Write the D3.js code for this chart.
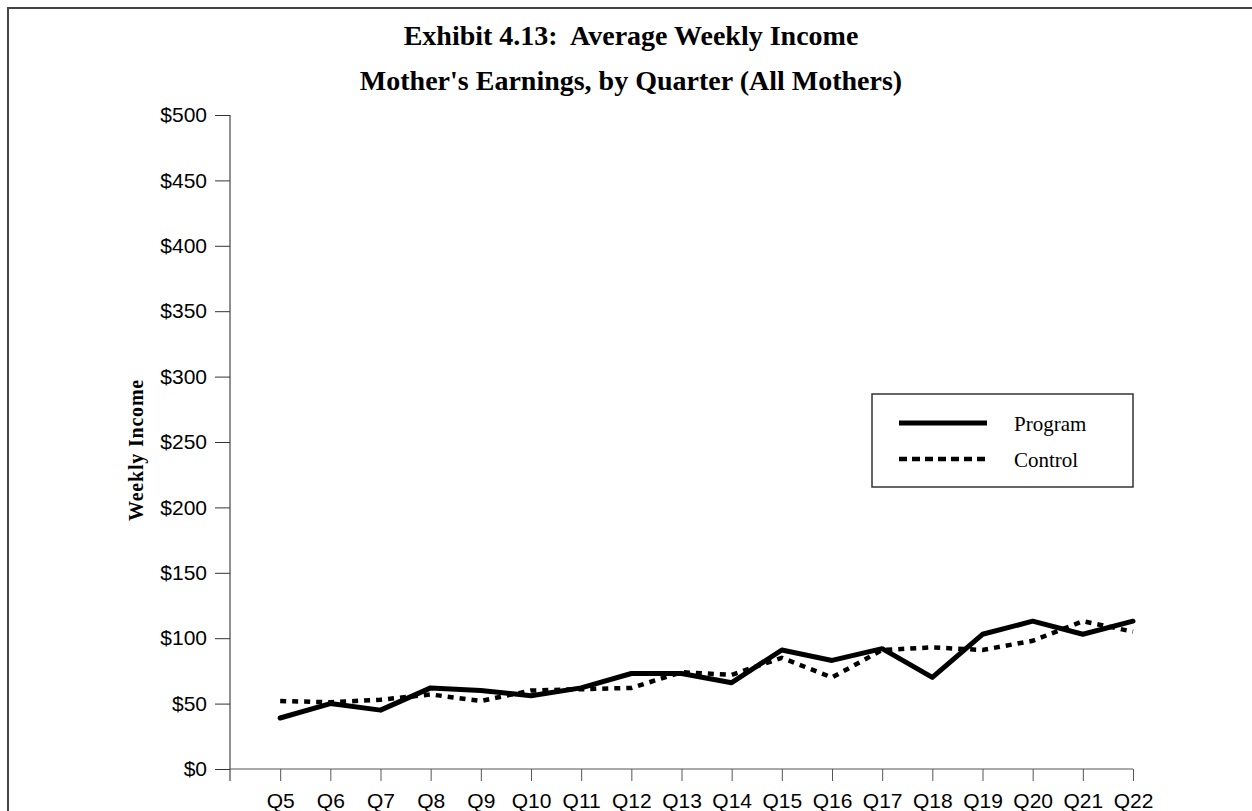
<!DOCTYPE html>
<html>
<head>
<meta charset="utf-8">
<title>Exhibit 4.13</title>
<script src="https://d3js.org/d3.v7.min.js"></script>
<style>
  body { margin: 0; background: #fff; }
  svg { display: block; }
</style>
</head>
<body>
<script>
// data
var quarters = ['Q5','Q6','Q7','Q8','Q9','Q10','Q11','Q12','Q13','Q14','Q15','Q16','Q17','Q18','Q19','Q20','Q21','Q22'];
var program = [39, 50, 45, 62, 60, 56, 62, 73, 73, 66, 91, 83, 92, 70, 103, 113, 103, 113];
var control = [52, 51, 53, 57, 52, 60, 61, 62, 74, 72, 85, 70, 91, 93, 91, 98, 113, 105];
var yTicks = [0, 50, 100, 150, 200, 250, 300, 350, 400, 450, 500];
var titleLines = ['Exhibit 4.13:  Average Weekly Income', "Mother's Earnings, by Quarter (All Mothers)"];

var W = 1252, H = 811;
var pLeft = 230, pRight = 1133, pTop = 115, pBottom = 769;

var svg = d3.select('body').append('svg')
  .attr('width', W)
  .attr('height', H);

// outer frame (only top and left edges are visible)
svg.append('rect')
  .attr('x', 8).attr('y', 8)
  .attr('width', 1300).attr('height', 900)
  .attr('fill', 'none')
  .attr('stroke', '#444')
  .attr('stroke-width', 2);

// titles
svg.selectAll('.title')
  .data(titleLines)
  .enter().append('text')
  .attr('class', 'title')
  .attr('x', 631)
  .attr('y', (d, i) => 45 + i * 45)
  .attr('text-anchor', 'middle')
  .style('white-space', 'pre')
  .style('font-family', '"Liberation Serif", "Times New Roman", serif')
  .style('font-weight', 'bold')
  .style('font-size', '28px')
  .text(d => d);

// scales
var x = d3.scaleLinear().domain([-1, quarters.length - 1]).range([pLeft, pRight]);
var y = d3.scaleLinear().domain([0, 500]).range([pBottom, pTop]);

// y axis
var yAxis = svg.append('g')
  .attr('transform', 'translate(' + pLeft + ',0)')
  .call(d3.axisLeft(y).tickValues(yTicks).tickSize(15).tickPadding(8).tickFormat(d => '$' + d));
yAxis.select('.domain').attr('d', 'M0,' + pTop + 'V' + (pBottom + 12)).attr('stroke', '#222');
yAxis.selectAll('.tick line').attr('stroke', '#333');
yAxis.selectAll('text')
  .style('font-family', '"Liberation Sans", Arial, sans-serif')
  .style('font-size', '21px')
  .attr('fill', '#000');

// x axis
var xAxis = svg.append('g')
  .attr('transform', 'translate(0,' + pBottom + ')')
  .call(d3.axisBottom(x).tickValues(d3.range(quarters.length)).tickSize(12).tickPadding(12)
    .tickFormat(i => quarters[i]));
xAxis.select('.domain').attr('d', 'M' + pLeft + ',0H' + pRight).attr('stroke', '#555');
xAxis.selectAll('.tick line').attr('stroke', '#555');
xAxis.selectAll('text')
  .style('font-family', '"Liberation Sans", Arial, sans-serif')
  .style('font-size', '21px')
  .attr('fill', '#000');

// y axis title
svg.append('text')
  .attr('transform', 'translate(143,450) rotate(-90)')
  .attr('text-anchor', 'middle')
  .style('font-family', '"Liberation Serif", "Times New Roman", serif')
  .style('font-weight', 'bold')
  .style('font-size', '20px')
  .style('letter-spacing', '0.8px')
  .text('Weekly Income');

// lines
var line = d3.line()
  .x((d, i) => x(i))
  .y(d => y(d));

svg.append('path')
  .datum(control)
  .attr('d', line)
  .attr('fill', 'none')
  .attr('stroke', '#000')
  .attr('stroke-width', 4.5)
  .attr('stroke-dasharray', '6,6');

svg.append('path')
  .datum(program)
  .attr('d', line)
  .attr('fill', 'none')
  .attr('stroke', '#000')
  .attr('stroke-width', 5)
  .attr('stroke-linejoin', 'round')
  .attr('stroke-linecap', 'round');

// legend
var legend = svg.append('g');
legend.append('rect')
  .attr('x', 872).attr('y', 394)
  .attr('width', 261).attr('height', 93)
  .attr('fill', '#fff')
  .attr('stroke', '#333')
  .attr('stroke-width', 1.5);

var items = [
  {name: 'Program', dash: null, w: 5},
  {name: 'Control', dash: '8,5', w: 4.5}
];
items.forEach(function(d, i) {
  var ly = 423 + i * 36;
  legend.append('line')
    .attr('x1', 899).attr('x2', 987)
    .attr('y1', ly).attr('y2', ly)
    .attr('stroke', '#000')
    .attr('stroke-width', d.w)
    .attr('stroke-dasharray', d.dash);
  legend.append('text')
    .attr('x', 1014).attr('y', ly + 8)
    .style('font-family', '"Liberation Serif", "Times New Roman", serif')
    .style('font-size', '21px')
    .text(d.name);
});
</script>
</body>
</html>
